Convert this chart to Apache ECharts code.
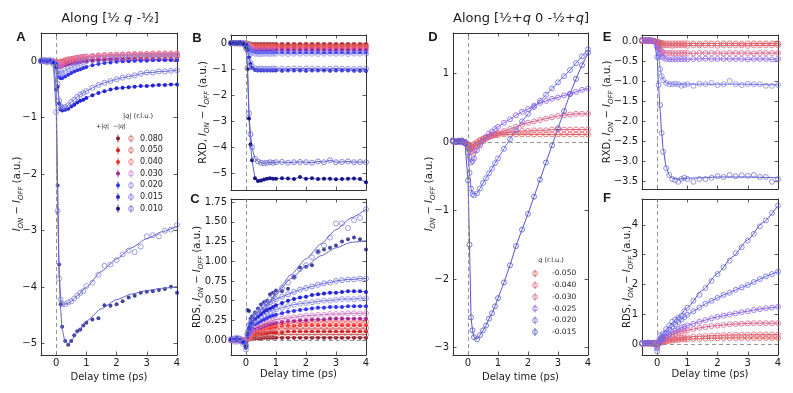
<!DOCTYPE html>
<html>
<head>
<meta charset="utf-8">
<script src="https://cdn.jsdelivr.net/npm/echarts@6/dist/echarts.min.js"></script>
<style>
* { margin: 0; padding: 0; }
#chart-container { width: 793px; height: 393px; background: #fff; }
</style>
</head>
<body>
<div id="chart-container"></div>
<script>
// delay times of the measured points, and a coarser grid for the fit curves
const T = [-0.5, -0.4, -0.3, -0.2, -0.1, 0, 0.05, 0.1, 0.15, 0.2, 0.3, 0.4, 0.5, 0.6, 0.7, 0.8, 0.9, 1.0, 1.2, 1.4, 1.6, 1.8, 2.0, 2.2, 2.4, 2.6, 2.8, 3.0, 3.2, 3.4, 3.6, 3.8, 4.0]
const FT = [-0.5, -0.1, 0, 0.05, 0.1, 0.15, 0.2, 0.3, 0.4, 0.5, 0.7, 1.0, 1.5, 2.0, 2.5, 3.0, 3.5, 4.0]

// panel A : along [1/2 q -1/2], I_on - I_off   (p = +|q| filled, m = -|q| open)
const qa080p = [0, 0, 0, 0, 0, -0.01, -0.02, -0.02, -0.02, -0.01, 0, 0.01, 0.01, 0.02, 0.02, 0.02, 0.02, 0.03, 0.03, 0.03, 0.03, 0.03, 0.03, 0.03, 0.03, 0.03, 0.03, 0.03, 0.03, 0.03, 0.03, 0.03, 0.03]
const qa080m = [0, 0, 0, 0, 0, -0.01, -0.02, -0.02, -0.01, 0, 0.02, 0.03, 0.04, 0.05, 0.06, 0.06, 0.07, 0.07, 0.08, 0.08, 0.09, 0.09, 0.09, 0.1, 0.1, 0.1, 0.1, 0.1, 0.1, 0.1, 0.1, 0.1, 0.1]
const qa050p = [0, 0, 0, 0, 0, -0.01, -0.03, -0.04, -0.04, -0.03, -0.02, -0.01, 0, 0.01, 0.01, 0.02, 0.02, 0.02, 0.03, 0.03, 0.03, 0.04, 0.04, 0.04, 0.04, 0.04, 0.04, 0.04, 0.04, 0.04, 0.04, 0.04, 0.04]
const qa050m = [0, 0, 0, 0, 0, -0.01, -0.03, -0.03, -0.02, -0.01, 0.01, 0.03, 0.04, 0.05, 0.06, 0.07, 0.08, 0.08, 0.09, 0.1, 0.1, 0.11, 0.11, 0.11, 0.12, 0.12, 0.12, 0.12, 0.12, 0.12, 0.12, 0.12, 0.12]
const qa040p = [0, 0, 0, 0, 0, -0.02, -0.04, -0.05, -0.05, -0.04, -0.03, -0.02, -0.01, 0, 0, 0.01, 0.01, 0.01, 0.02, 0.02, 0.02, 0.02, 0.03, 0.03, 0.03, 0.03, 0.03, 0.03, 0.03, 0.03, 0.03, 0.03, 0.03]
const qa040m = [0, 0, 0, 0, 0, -0.02, -0.04, -0.05, -0.04, -0.03, -0.01, 0.01, 0.03, 0.04, 0.05, 0.06, 0.07, 0.08, 0.09, 0.1, 0.11, 0.11, 0.12, 0.12, 0.12, 0.13, 0.13, 0.13, 0.14, 0.14, 0.14, 0.14, 0.14]
const qa030p = [0, 0, 0.01, 0, 0, -0.03, -0.08, -0.1, -0.1, -0.09, -0.07, -0.05, -0.04, -0.03, -0.02, -0.01, 0, 0, 0.01, 0.01, 0.01, 0.02, 0.02, 0.02, 0.02, 0.02, 0.02, 0.02, 0.02, 0.02, 0.02, 0.02, 0.02]
const qa030m = [0, 0.01, 0, 0.01, 0, -0.03, -0.07, -0.08, -0.07, -0.05, -0.02, 0, 0.02, 0.04, 0.05, 0.06, 0.07, 0.08, 0.09, 0.1, 0.1, 0.11, 0.11, 0.12, 0.12, 0.12, 0.12, 0.13, 0.12, 0.13, 0.13, 0.13, 0.13]
const qa020p = [0, 0.01, 0, 0.01, -0.01, -0.05, -0.2, -0.28, -0.3, -0.3, -0.27, -0.24, -0.21, -0.18, -0.16, -0.14, -0.12, -0.1, -0.07, -0.05, -0.03, -0.02, -0.01, 0, 0, 0.01, 0.01, 0.01, 0.02, 0.02, 0.02, 0.02, 0.02]
const qa020m = [0.01, 0, 0.02, 0, -0.02, -0.05, -0.15, -0.22, -0.22, -0.2, -0.17, -0.14, -0.11, -0.08, -0.06, -0.04, -0.02, 0, 0.02, 0.03, 0.04, 0.05, 0.06, 0.06, 0.07, 0.07, 0.08, 0.08, 0.08, 0.09, 0.09, 0.09, 0.09]
const qa015p = [0.02, 0, 0.01, 0, -0.02, -0.1, -0.45, -0.75, -0.85, -0.87, -0.86, -0.84, -0.8, -0.77, -0.73, -0.7, -0.68, -0.65, -0.6, -0.56, -0.53, -0.5, -0.48, -0.47, -0.46, -0.45, -0.44, -0.44, -0.43, -0.42, -0.42, -0.41, -0.41]
const qa015m = [0, 0.02, 0, 0.02, -0.02, -0.12, -0.4, -0.7, -0.8, -0.82, -0.81, -0.78, -0.72, -0.68, -0.63, -0.59, -0.56, -0.53, -0.47, -0.42, -0.38, -0.35, -0.32, -0.29, -0.27, -0.25, -0.22, -0.2, -0.2, -0.18, -0.18, -0.17, -0.16]
const qa010p = [0.02, 0.01, 0, 0.02, 0, -0.5, -2.2, -3.6, -4.3, -4.7, -4.95, -5.02, -4.95, -4.85, -4.78, -4.75, -4.68, -4.63, -4.57, -4.55, -4.32, -4.33, -4.3, -4.25, -4.18, -4.15, -4.1, -4.08, -4.07, -4.05, -4.03, -3.99, -4.1]
const qa010m = [0, 0.02, -0.02, 0, -0.05, -0.9, -2.65, -3.85, -4.22, -4.3, -4.3, -4.27, -4.25, -4.2, -4.15, -4.1, -4.07, -3.98, -3.92, -3.78, -3.62, -3.6, -3.52, -3.42, -3.35, -3.38, -3.28, -3.1, -3.08, -3.1, -3.0, -2.98, -2.9]
const fitA010p = [0, 0, -0.4, -2.2, -3.7, -4.4, -4.75, -4.97, -5.0, -4.95, -4.8, -4.6, -4.38, -4.22, -4.12, -4.06, -4.02, -3.99]
const fitA010m = [0, 0, -0.8, -2.6, -3.8, -4.2, -4.3, -4.3, -4.28, -4.25, -4.15, -4.0, -3.72, -3.5, -3.3, -3.14, -3.02, -2.92]

// panel B : RXD
const qb080p = [0, 0, 0, 0, 0, 0, -0.01, -0.02, -0.03, -0.03, -0.03, -0.03, -0.03, -0.03, -0.03, -0.03, -0.03, -0.03, -0.03, -0.03, -0.03, -0.03, -0.03, -0.03, -0.03, -0.03, -0.03, -0.03, -0.03, -0.03, -0.03, -0.03, -0.03]
const qb080m = [0, 0, 0, 0, 0, 0, -0.02, -0.03, -0.05, -0.05, -0.06, -0.06, -0.06, -0.06, -0.06, -0.06, -0.06, -0.06, -0.06, -0.06, -0.06, -0.06, -0.06, -0.06, -0.06, -0.06, -0.06, -0.06, -0.06, -0.06, -0.06, -0.06, -0.06]
const qb050p = [0, 0, 0.01, 0, 0, -0.01, -0.03, -0.05, -0.07, -0.09, -0.1, -0.1, -0.1, -0.11, -0.1, -0.1, -0.1, -0.1, -0.1, -0.11, -0.1, -0.1, -0.1, -0.1, -0.1, -0.11, -0.1, -0.1, -0.1, -0.1, -0.1, -0.1, -0.1]
const qb050m = [0, 0.01, 0, 0, 0, -0.01, -0.04, -0.07, -0.1, -0.12, -0.13, -0.13, -0.13, -0.13, -0.14, -0.13, -0.13, -0.13, -0.13, -0.13, -0.13, -0.14, -0.13, -0.13, -0.13, -0.13, -0.13, -0.13, -0.14, -0.13, -0.13, -0.13, -0.13]
const qb040p = [0, 0, 0, 0.01, 0, -0.01, -0.05, -0.09, -0.13, -0.15, -0.16, -0.16, -0.16, -0.16, -0.16, -0.17, -0.16, -0.16, -0.16, -0.16, -0.16, -0.16, -0.17, -0.16, -0.16, -0.16, -0.16, -0.16, -0.16, -0.17, -0.16, -0.16, -0.16]
const qb040m = [0.01, 0, 0, 0, 0, -0.01, -0.06, -0.11, -0.15, -0.17, -0.19, -0.19, -0.19, -0.19, -0.2, -0.19, -0.19, -0.19, -0.19, -0.2, -0.19, -0.19, -0.19, -0.19, -0.19, -0.2, -0.19, -0.19, -0.19, -0.19, -0.19, -0.2, -0.19]
const qb030p = [0, 0, 0, 0, 0, -0.02, -0.07, -0.13, -0.18, -0.21, -0.23, -0.23, -0.23, -0.23, -0.23, -0.23, -0.24, -0.23, -0.23, -0.23, -0.23, -0.23, -0.23, -0.24, -0.23, -0.23, -0.23, -0.23, -0.23, -0.23, -0.24, -0.23, -0.23]
const qb030m = [0, 0.01, 0, 0, 0, -0.02, -0.08, -0.15, -0.2, -0.24, -0.26, -0.26, -0.26, -0.27, -0.26, -0.26, -0.26, -0.26, -0.26, -0.26, -0.27, -0.26, -0.26, -0.26, -0.26, -0.26, -0.27, -0.26, -0.26, -0.26, -0.26, -0.26, -0.26]
const qb020p = [0, 0, 0, 0, 0, -0.02, -0.08, -0.18, -0.25, -0.3, -0.33, -0.34, -0.33, -0.33, -0.33, -0.33, -0.34, -0.33, -0.33, -0.33, -0.34, -0.33, -0.33, -0.33, -0.33, -0.34, -0.33, -0.33, -0.33, -0.34, -0.33, -0.33, -0.33]
const qb020m = [0, 0.01, 0, 0, 0, -0.02, -0.1, -0.22, -0.3, -0.36, -0.4, -0.41, -0.41, -0.4, -0.4, -0.41, -0.4, -0.4, -0.4, -0.41, -0.4, -0.4, -0.4, -0.4, -0.41, -0.4, -0.4, -0.4, -0.4, -0.41, -0.4, -0.4, -0.4]
const qb015p = [0, 0.01, 0, 0.01, -0.01, -0.05, -0.25, -0.55, -0.8, -0.95, -1.03, -1.05, -1.05, -1.05, -1.05, -1.05, -1.05, -1.05, -1.06, -1.05, -1.05, -1.05, -1.06, -1.05, -1.05, -1.05, -1.06, -1.05, -1.05, -1.05, -1.06, -1.06, -1.07]
const qb015m = [0.01, 0, 0.02, 0, -0.01, -0.05, -0.25, -0.5, -0.75, -0.9, -0.97, -0.98, -0.97, -0.98, -0.99, -0.98, -0.97, -0.98, -0.98, -0.99, -0.97, -0.98, -0.97, -0.98, -0.98, -0.99, -0.98, -0.97, -0.98, -0.98, -0.99, -0.98, -0.98]
const qb010p = [0.02, 0, 0.01, 0, -0.02, -0.15, -1.0, -2.9, -3.9, -4.5, -5.2, -5.3, -5.28, -5.25, -5.22, -5.2, -5.22, -5.22, -5.2, -5.21, -5.23, -5.15, -5.22, -5.2, -5.23, -5.22, -5.22, -5.24, -5.23, -5.22, -5.21, -5.23, -5.35]
const qb010m = [0, 0.02, 0, 0.02, -0.02, -0.2, -0.95, -2.7, -3.5, -4.0, -4.45, -4.55, -4.6, -4.62, -4.6, -4.58, -4.6, -4.58, -4.57, -4.6, -4.58, -4.57, -4.58, -4.6, -4.55, -4.58, -4.5, -4.58, -4.57, -4.55, -4.58, -4.57, -4.58]

// panel C : RDS
const qc080p = [0, 0, 0, 0, 0, 0, 0, 0.01, 0.01, 0.02, 0.02, 0.02, 0.02, 0.03, 0.03, 0.03, 0.03, 0.03, 0.03, 0.03, 0.03, 0.03, 0.03, 0.03, 0.03, 0.03, 0.03, 0.03, 0.03, 0.03, 0.03, 0.03, 0.03]
const qc080m = [0, 0, 0, 0, 0, 0, 0.01, 0.02, 0.03, 0.03, 0.04, 0.05, 0.05, 0.06, 0.06, 0.06, 0.06, 0.07, 0.07, 0.07, 0.07, 0.07, 0.07, 0.07, 0.07, 0.07, 0.07, 0.07, 0.07, 0.07, 0.07, 0.07, 0.07]
const qc050p = [0, 0, 0, 0, 0, 0, 0.01, 0.02, 0.04, 0.05, 0.07, 0.08, 0.08, 0.09, 0.09, 0.1, 0.1, 0.1, 0.1, 0.11, 0.11, 0.11, 0.11, 0.11, 0.11, 0.11, 0.11, 0.11, 0.11, 0.11, 0.11, 0.11, 0.11]
const qc050m = [0, 0, 0, 0, 0, 0, 0.01, 0.03, 0.05, 0.07, 0.09, 0.1, 0.11, 0.12, 0.13, 0.13, 0.14, 0.14, 0.14, 0.15, 0.15, 0.15, 0.15, 0.15, 0.15, 0.15, 0.15, 0.15, 0.15, 0.15, 0.15, 0.15, 0.15]
const qc040p = [0, 0, 0, 0, 0, 0, 0.02, 0.04, 0.07, 0.09, 0.11, 0.13, 0.14, 0.15, 0.16, 0.16, 0.17, 0.17, 0.18, 0.18, 0.18, 0.19, 0.19, 0.19, 0.19, 0.19, 0.19, 0.19, 0.19, 0.19, 0.19, 0.19, 0.19]
const qc040m = [0, 0, 0, 0, 0, 0, 0.02, 0.05, 0.08, 0.1, 0.13, 0.15, 0.16, 0.17, 0.18, 0.19, 0.2, 0.2, 0.21, 0.21, 0.22, 0.22, 0.22, 0.23, 0.23, 0.23, 0.23, 0.23, 0.23, 0.23, 0.23, 0.23, 0.23]
const qc030p = [0, 0, 0, 0, 0, -0.01, 0.02, 0.05, 0.08, 0.1, 0.13, 0.15, 0.16, 0.18, 0.19, 0.2, 0.21, 0.22, 0.23, 0.24, 0.24, 0.25, 0.25, 0.26, 0.26, 0.26, 0.27, 0.27, 0.27, 0.27, 0.27, 0.27, 0.27]
const qc030m = [0, 0, 0, 0, 0, -0.02, 0.03, 0.07, 0.1, 0.12, 0.15, 0.17, 0.19, 0.21, 0.22, 0.24, 0.25, 0.26, 0.27, 0.28, 0.29, 0.3, 0.31, 0.31, 0.32, 0.32, 0.33, 0.33, 0.33, 0.34, 0.34, 0.34, 0.34]
const qc020p = [0.01, 0, 0.01, 0, -0.02, -0.05, 0.05, 0.1, 0.13, 0.16, 0.2, 0.22, 0.24, 0.26, 0.28, 0.3, 0.31, 0.32, 0.34, 0.36, 0.37, 0.38, 0.39, 0.4, 0.41, 0.41, 0.42, 0.42, 0.42, 0.43, 0.43, 0.43, 0.43]
const qc020m = [0, 0.01, 0, 0.02, -0.02, -0.06, 0.07, 0.13, 0.17, 0.2, 0.24, 0.27, 0.3, 0.32, 0.34, 0.36, 0.38, 0.39, 0.41, 0.43, 0.45, 0.46, 0.47, 0.48, 0.49, 0.5, 0.5, 0.51, 0.52, 0.52, 0.52, 0.53, 0.53]
const qc015p = [0.01, 0, 0.01, -0.01, -0.03, -0.08, 0.08, 0.15, 0.2, 0.23, 0.27, 0.3, 0.33, 0.36, 0.38, 0.4, 0.42, 0.44, 0.47, 0.5, 0.52, 0.54, 0.55, 0.57, 0.58, 0.59, 0.6, 0.6, 0.61, 0.62, 0.62, 0.62, 0.61]
const qc015m = [0, 0.02, -0.02, 0.01, -0.02, -0.08, 0.1, 0.18, 0.22, 0.26, 0.32, 0.36, 0.39, 0.43, 0.46, 0.48, 0.5, 0.52, 0.55, 0.58, 0.61, 0.64, 0.66, 0.68, 0.7, 0.72, 0.73, 0.75, 0.76, 0.77, 0.77, 0.78, 0.78]
const qc010p = [0.02, 0, 0.03, -0.02, -0.03, -0.1, 0.38, 0.37, 0.27, 0.3, 0.35, 0.4, 0.45, 0.48, 0.5, 0.58, 0.6, 0.63, 0.62, 0.65, 0.8, 0.92, 0.93, 0.95, 1.12, 1.15, 1.17, 1.2, 1.25, 1.28, 1.3, 1.28, 1.15]
const qc010m = [0.01, -0.02, 0.03, 0, -0.05, -0.12, 0.05, 0.12, 0.2, 0.25, 0.3, 0.33, 0.36, 0.42, 0.47, 0.52, 0.56, 0.6, 0.66, 0.73, 0.8, 0.9, 0.95, 1.05, 1.12, 1.2, 1.3, 1.48, 1.48, 1.42, 1.52, 1.55, 1.66]
const fitC010p = [0, 0, -0.05, 0.1, 0.18, 0.24, 0.28, 0.32, 0.35, 0.38, 0.45, 0.58, 0.78, 0.94, 1.07, 1.17, 1.24, 1.26]
const fitC010m = [0, 0, -0.05, 0.08, 0.14, 0.19, 0.22, 0.26, 0.29, 0.32, 0.42, 0.6, 0.83, 1.03, 1.22, 1.4, 1.55, 1.66]

// panel D : along [1/2+q 0 -1/2+q]
const qd050 = [0.01, 0, 0.01, 0, 0, -0.03, -0.06, -0.07, -0.05, -0.03, 0, 0.03, 0.05, 0.07, 0.08, 0.09, 0.1, 0.1, 0.11, 0.11, 0.11, 0.11, 0.11, 0.11, 0.11, 0.11, 0.11, 0.11, 0.11, 0.11, 0.11, 0.11, 0.11]
const qd040 = [0, 0.01, 0, 0.01, 0, -0.04, -0.09, -0.1, -0.08, -0.06, -0.02, 0.01, 0.04, 0.06, 0.08, 0.1, 0.11, 0.12, 0.13, 0.14, 0.15, 0.16, 0.16, 0.17, 0.17, 0.17, 0.18, 0.18, 0.18, 0.18, 0.18, 0.18, 0.18]
const qd030 = [0.01, 0, 0.02, 0, 0, -0.05, -0.12, -0.15, -0.14, -0.12, -0.07, -0.03, 0.01, 0.04, 0.07, 0.09, 0.11, 0.13, 0.16, 0.19, 0.22, 0.25, 0.28, 0.3, 0.32, 0.34, 0.36, 0.38, 0.39, 0.4, 0.41, 0.41, 0.41]
const qd025 = [0.02, 0.01, 0, 0.02, -0.01, -0.08, -0.22, -0.3, -0.28, -0.24, -0.12, -0.05, 0.02, 0.07, 0.12, 0.15, 0.19, 0.22, 0.28, 0.33, 0.39, 0.44, 0.48, 0.53, 0.57, 0.6, 0.63, 0.65, 0.68, 0.7, 0.73, 0.76, 0.78]
const qd020 = [0.02, 0, 0.01, 0, -0.02, -0.15, -0.45, -0.68, -0.76, -0.78, -0.75, -0.68, -0.6, -0.53, -0.46, -0.39, -0.31, -0.24, -0.1, 0.04, 0.17, 0.3, 0.41, 0.51, 0.6, 0.69, 0.78, 0.87, 0.96, 1.05, 1.15, 1.25, 1.35]
const qd015 = [0.02, 0, 0.01, 0.02, -0.02, -0.56, -1.5, -2.56, -2.75, -2.85, -2.88, -2.82, -2.75, -2.68, -2.58, -2.5, -2.4, -2.28, -2.05, -1.8, -1.52, -1.28, -1.05, -0.8, -0.55, -0.3, -0.05, 0.2, 0.45, 0.7, 0.92, 1.12, 1.3]

// panel E : RXD
const qe050 = [0.01, 0, 0.01, 0, 0, -0.01, -0.03, -0.04, -0.05, -0.06, -0.06, -0.06, -0.06, -0.06, -0.06, -0.06, -0.06, -0.06, -0.06, -0.07, -0.06, -0.06, -0.06, -0.06, -0.06, -0.06, -0.07, -0.06, -0.06, -0.06, -0.06, -0.06, -0.06]
const qe040 = [0, 0.01, 0, 0.01, 0, -0.02, -0.05, -0.08, -0.1, -0.11, -0.11, -0.11, -0.12, -0.11, -0.11, -0.11, -0.11, -0.12, -0.11, -0.11, -0.11, -0.11, -0.12, -0.11, -0.11, -0.11, -0.11, -0.12, -0.11, -0.11, -0.11, -0.11, -0.11]
const qe030 = [0.01, 0, 0.01, 0, 0, -0.05, -0.14, -0.22, -0.26, -0.28, -0.3, -0.3, -0.3, -0.31, -0.3, -0.3, -0.3, -0.3, -0.31, -0.3, -0.3, -0.3, -0.3, -0.31, -0.3, -0.3, -0.3, -0.3, -0.31, -0.3, -0.3, -0.3, -0.3]
const qe025 = [0.01, 0.02, 0, 0.01, -0.01, -0.08, -0.2, -0.32, -0.38, -0.42, -0.45, -0.46, -0.46, -0.45, -0.46, -0.45, -0.45, -0.46, -0.45, -0.45, -0.44, -0.45, -0.45, -0.45, -0.45, -0.45, -0.45, -0.46, -0.45, -0.45, -0.45, -0.46, -0.45]
const qe020 = [0.02, 0.01, 0.02, 0, -0.02, -0.15, -0.4, -0.7, -0.88, -0.98, -1.05, -1.08, -1.08, -1.07, -1.08, -1.12, -1.1, -1.08, -1.12, -1.07, -1.08, -1.05, -1.1, -1.08, -1.0, -1.08, -1.1, -1.07, -1.08, -1.08, -1.12, -1.12, -1.1]
const qe015 = [0.02, 0.03, 0.02, 0.03, 0, -0.4, -1.1, -1.6, -2.3, -2.77, -3.18, -3.35, -3.45, -3.48, -3.52, -3.45, -3.42, -3.45, -3.52, -3.45, -3.45, -3.42, -3.38, -3.4, -3.35, -3.38, -3.36, -3.37, -3.35, -3.4, -3.4, -3.52, -3.45]
const fitE020 = [0, 0, -0.15, -0.4, -0.68, -0.87, -0.97, -1.05, -1.07, -1.08, -1.08, -1.08, -1.08, -1.08, -1.08, -1.08, -1.09, -1.1]
const fitE015 = [0, 0, -0.4, -1.15, -1.75, -2.3, -2.7, -3.15, -3.35, -3.43, -3.45, -3.43, -3.42, -3.4, -3.4, -3.4, -3.41, -3.42]

// panel F : RDS
const qf050 = [0.01, 0.01, 0.02, 0.01, 0, 0, 0.02, 0.04, 0.05, 0.07, 0.09, 0.1, 0.12, 0.13, 0.14, 0.15, 0.16, 0.16, 0.17, 0.18, 0.18, 0.19, 0.19, 0.2, 0.2, 0.2, 0.2, 0.2, 0.2, 0.2, 0.2, 0.2, 0.2]
const qf040 = [0.01, 0.02, 0.01, 0.02, 0.01, 0, 0.02, 0.05, 0.07, 0.09, 0.12, 0.14, 0.16, 0.18, 0.2, 0.21, 0.22, 0.23, 0.25, 0.26, 0.27, 0.28, 0.29, 0.3, 0.3, 0.31, 0.31, 0.31, 0.32, 0.32, 0.32, 0.32, 0.32]
const qf030 = [0.02, 0.01, 0.03, 0.02, 0.01, -0.05, 0.03, 0.08, 0.12, 0.15, 0.21, 0.26, 0.3, 0.34, 0.38, 0.41, 0.44, 0.46, 0.5, 0.54, 0.57, 0.6, 0.62, 0.64, 0.66, 0.67, 0.68, 0.69, 0.7, 0.7, 0.7, 0.7, 0.7]
const qf025 = [0.02, 0.03, 0.02, 0.04, 0.02, -0.1, 0.03, 0.1, 0.15, 0.18, 0.26, 0.33, 0.4, 0.45, 0.5, 0.55, 0.58, 0.62, 0.68, 0.75, 0.8, 0.86, 0.91, 0.95, 0.99, 1.03, 1.07, 1.1, 1.14, 1.17, 1.2, 1.22, 1.25]
const qf020 = [0.03, 0.02, 0.04, 0.02, 0.03, -0.15, 0.05, 0.15, 0.2, 0.25, 0.38, 0.48, 0.58, 0.66, 0.74, 0.82, 0.9, 0.98, 1.1, 1.22, 1.35, 1.45, 1.55, 1.65, 1.72, 1.82, 1.9, 1.98, 2.08, 2.18, 2.27, 2.35, 2.43]
const qf015 = [0.02, 0.03, 0.05, 0, 0.05, -0.25, 0.1, 0.3, 0.25, 0.35, 0.5, 0.62, 0.75, 0.82, 0.88, 0.95, 1.1, 1.22, 1.45, 1.65, 1.88, 2.12, 2.35, 2.58, 2.8, 3.05, 3.25, 3.48, 3.7, 3.95, 4.15, 4.4, 4.65]
const fitF015 = [0, 0, 0, 0.1, 0.2, 0.28, 0.35, 0.48, 0.6, 0.72, 0.9, 1.22, 1.8, 2.37, 2.93, 3.5, 4.08, 4.65]

// legend labels and tick labels
const qAB = ['0.080', '0.050', '0.040', '0.030', '0.020', '0.015', '0.010']
const qD = ['-0.050', '-0.040', '-0.030', '-0.025', '-0.020', '-0.015']
const xTicks = [0, 1, 2, 3, 4]
const yTicksA = [-5, -4, -3, -2, -1, 0]
const yTicksB = [-5, -4, -3, -2, -1, 0]
const yTicksC = [0, 0.25, 0.5, 0.75, 1.0, 1.25, 1.5, 1.75]
const yTicksD = [-3, -2, -1, 0, 1]
const yTicksE = [-3.5, -3.0, -2.5, -2.0, -1.5, -1.0, -0.5, 0.0]
const yTicksF = [0, 1, 2, 3, 4]

const colFill = ['#8c1c2c', '#cc2222', '#ff2b2b', '#a3268c', '#3535ee', '#2424d4', '#141488']
const colOpen = ['#cf6b6b', '#e06666', '#ff7373', '#d47ac8', '#8888ee', '#7474e0', '#6868cc']
const colFit = ['#cc6464', '#e06464', '#ff6a6a', '#c673b8', '#7b7be0', '#6d6dd6', '#6262c8']
const colD = ['#e05a5a', '#e0637a', '#d8608a', '#8a62e8', '#6a6ae6', '#5757cc']

const FONT = 'DejaVu Sans'
const INK = '#1a1a1a'
const AX = '#333'

const pts = (xs, ys) => xs.map((x, i) => [x, ys[i]])
const fmt = (v, dec) => (v < 0 ? '\u2212' : '') + Math.abs(v).toFixed(dec)

const grids = [
  { left: 41, top: 33, width: 136, height: 322 },
  { left: 231, top: 35, width: 135, height: 155 },
  { left: 231, top: 199, width: 135, height: 156 },
  { left: 453, top: 33, width: 135, height: 322 },
  { left: 642, top: 35, width: 136, height: 154 },
  { left: 642, top: 199, width: 136, height: 156 }
]

const panels = [
  { min: -5.2, max: 0.5, ticks: yTicksA, dec: 0, pre: '', gap: 16, xl: true },
  { min: -5.65, max: 0.32, ticks: yTicksB, dec: 0, pre: 'RXD, ', gap: 20, xl: false },
  { min: -0.19, max: 1.79, ticks: yTicksC, dec: 2, pre: 'RDS, ', gap: 26, xl: true },
  { min: -3.11, max: 1.59, ticks: yTicksD, dec: 0, pre: '', gap: 16, xl: true },
  { min: -3.7, max: 0.15, ticks: yTicksE, dec: 1, pre: 'RXD, ', gap: 27, xl: false },
  { min: -0.37, max: 4.87, ticks: yTicksF, dec: 0, pre: 'RDS, ', gap: 7, xl: true }
]

const xAxis = []
const yAxis = []
panels.forEach((p, i) => {
  const tick = { inside: true, length: 3.5, lineStyle: { color: AX, width: 0.8 } }
  const line = { onZero: false, lineStyle: { color: AX, width: 1 } }
  xAxis.push({
    type: 'value', gridIndex: i, min: -0.5, max: 4, position: 'bottom',
    axisLine: line, splitLine: { show: false },
    axisTick: { ...tick, customValues: xTicks },
    axisLabel: { show: p.xl, customValues: xTicks, margin: 3, fontSize: 10, color: INK, fontFamily: FONT, formatter: v => fmt(v, 0) },
    name: p.xl ? 'Delay time (ps)' : '', nameLocation: 'middle', nameGap: 14,
    nameTextStyle: { fontSize: 10, color: INK, fontFamily: FONT }
  })
  xAxis.push({
    type: 'value', gridIndex: i, min: -0.5, max: 4, position: 'top',
    axisLine: line, splitLine: { show: false },
    axisTick: { ...tick, customValues: xTicks },
    axisLabel: { show: false }
  })
  const s = 10
  yAxis.push({
    type: 'value', gridIndex: i, min: p.min, max: p.max, position: 'left',
    axisLine: line, splitLine: { show: false },
    axisTick: { ...tick, customValues: p.ticks },
    axisLabel: { customValues: p.ticks, margin: 4, fontSize: 10, color: INK, fontFamily: FONT, formatter: v => fmt(v, p.dec) },
    name: (p.pre ? '{n|' + p.pre + '}' : '') + '{i|I}{s|ON}{n| \u2212 }{i|I}{s|OFF}{n| (a.u.)}',
    nameLocation: 'middle', nameRotate: 90, nameGap: p.gap, nameMoveOverlap: false,
    nameTextStyle: {
      color: INK, fontFamily: FONT, fontSize: s,
      rich: {
        n: { fontSize: s, fontFamily: FONT, color: INK, lineHeight: 16, verticalAlign: 'middle' },
        i: { fontSize: s, fontFamily: FONT, color: INK, fontStyle: 'italic', lineHeight: 16, verticalAlign: 'middle' },
        s: { fontSize: s * 0.7, fontFamily: FONT, color: INK, fontStyle: 'italic', lineHeight: 11, verticalAlign: 'bottom' }
      }
    }
  })
  yAxis.push({
    type: 'value', gridIndex: i, min: p.min, max: p.max, position: 'right',
    axisLine: line, splitLine: { show: false },
    axisTick: { ...tick, customValues: p.ticks },
    axisLabel: { show: false }
  })
})

const series = []

// dashed guide lines at t = 0 (and at zero signal for C, D, F)
grids.forEach((g, i) => {
  const marks = [{ xAxis: 0 }]
  if (i === 2 || i === 3 || i === 5) marks.push({ yAxis: 0 })
  series.push({
    type: 'line', xAxisIndex: 2 * i, yAxisIndex: 2 * i, data: [], silent: true,
    markLine: {
      silent: true, symbol: 'none', label: { show: false }, animation: false,
      lineStyle: { type: [4, 3], color: '#8a8a8a', width: 0.9 },
      data: marks
    }
  })
})

function addCurve (g, ys, color, filled, lineColor, fit) {
  const base = { xAxisIndex: 2 * g, yAxisIndex: 2 * g, silent: true }
  const item = filled
    ? { color: color, borderWidth: 0 }
    : { color: 'rgba(0,0,0,0)', borderColor: color, borderWidth: 0.8 }
  const size = filled ? 4 : 5
  if (fit) {
    series.push({ ...base, type: 'line', data: pts(FT, fit), smooth: 0.2, smoothMonotone: 'x', showSymbol: false, lineStyle: { color: lineColor, width: 1 } })
    series.push({ ...base, type: 'scatter', data: pts(T, ys), symbol: 'circle', symbolSize: size, itemStyle: item })
  } else {
    series.push({ ...base, type: 'line', data: pts(T, ys), symbol: 'circle', symbolSize: size, showSymbol: true, showAllSymbol: true, itemStyle: item, lineStyle: { color: lineColor, width: 1 } })
  }
}

const setA = [[qa080p, qa080m], [qa050p, qa050m], [qa040p, qa040m], [qa030p, qa030m], [qa020p, qa020m], [qa015p, qa015m], [qa010p, qa010m]]
const setB = [[qb080p, qb080m], [qb050p, qb050m], [qb040p, qb040m], [qb030p, qb030m], [qb020p, qb020m], [qb015p, qb015m], [qb010p, qb010m]]
const setC = [[qc080p, qc080m], [qc050p, qc050m], [qc040p, qc040m], [qc030p, qc030m], [qc020p, qc020m], [qc015p, qc015m], [qc010p, qc010m]]

setA.forEach(([p, m], k) => {
  addCurve(0, p, colFill[k], true, colFit[k], k === 6 ? fitA010p : null)
  addCurve(0, m, colOpen[k], false, colFit[k], k === 6 ? fitA010m : null)
})
setB.forEach(([p, m], k) => {
  addCurve(1, p, colFill[k], true, colFit[k], null)
  addCurve(1, m, colOpen[k], false, colFit[k], null)
})
setC.forEach(([p, m], k) => {
  addCurve(2, p, colFill[k], true, colFit[k], k === 6 ? fitC010p : null)
  addCurve(2, m, colOpen[k], false, colFit[k], k === 6 ? fitC010m : null)
})

const setD = [qd050, qd040, qd030, qd025, qd020, qd015]
const setE = [qe050, qe040, qe030, qe025, qe020, qe015]
const setF = [qf050, qf040, qf030, qf025, qf020, qf015]
const fitsE = [null, null, null, null, fitE020, fitE015]
const fitsF = [null, null, null, null, null, fitF015]
setD.forEach((d, k) => addCurve(3, d, colD[k], false, colD[k], null))
setE.forEach((d, k) => addCurve(4, d, colD[k], false, colD[k], fitsE[k]))
setF.forEach((d, k) => addCurve(5, d, colD[k], false, colD[k], fitsF[k]))

// titles, panel letters and the two legends
const graphic = []
const txt = (x, y, text, font, extra) => graphic.push({
  type: 'text', x: x, y: y, silent: true,
  style: { text: text, font: font, fill: INK, align: 'center', verticalAlign: 'middle', ...extra }
})
const italic = size => ({ rich: { q: { fontStyle: 'italic', fontSize: size, fontFamily: FONT, fill: INK } } })

txt(110, 19, 'Along [\u00bd {q|q} -\u00bd]', '13px "DejaVu Sans"', italic(13))
txt(521, 19, 'Along [\u00bd+{q|q} 0 -\u00bd+{q|q}]', '13px "DejaVu Sans"', italic(13))
const letters = [['A', 21, 37], ['B', 197, 38], ['C', 195, 199], ['D', 433, 37], ['E', 607, 37], ['F', 607, 198]]
letters.forEach(([t, x, y]) => txt(x, y, t, 'bold 13px "Liberation Sans"', {}))

function legendMark (x, y, color, filled) {
  graphic.push({ type: 'line', silent: true, shape: { x1: x, y1: y - 4, x2: x, y2: y + 4 }, style: { stroke: color, lineWidth: 0.8 } })
  graphic.push({
    type: 'circle', silent: true, shape: { cx: x, cy: y, r: filled ? 2 : 2.4 },
    style: filled ? { fill: color } : { fill: 'rgba(0,0,0,0)', stroke: color, lineWidth: 0.8 }
  })
}

txt(138, 116, '|{q|q}| (r.l.u.)', '6.5px "DejaVu Sans"', italic(6.5))
txt(111, 126, '+|{q|q}|  \u2212|{q|q}|', '6px "DejaVu Sans"', italic(6))
qAB.forEach((lab, k) => {
  const y = 138.5 + k * 11.7
  legendMark(118, y, colFill[k], true)
  legendMark(131, y, colOpen[k], false)
  graphic.push({ type: 'text', x: 140, y: y, silent: true, style: { text: lab, font: '8px "DejaVu Sans"', fill: INK, align: 'left', verticalAlign: 'middle' } })
})

txt(551, 260, '{q|q} (r.l.u.)', '6.5px "DejaVu Sans"', italic(6.5))
qD.forEach((lab, k) => {
  const y = 273.5 + k * 11.7
  legendMark(535, y, colD[k], false)
  graphic.push({ type: 'text', x: 552, y: y, silent: true, style: { text: lab, font: '7.5px "DejaVu Sans"', fill: INK, align: 'left', verticalAlign: 'middle' } })
})

const chart = echarts.init(document.getElementById('chart-container'), null, { renderer: 'canvas' })
chart.setOption({
  animation: false,
  backgroundColor: '#fff',
  grid: grids.map(g => ({ ...g, containLabel: false })),
  xAxis: xAxis,
  yAxis: yAxis,
  series: series,
  graphic: graphic
})
</script>
</body>
</html>
